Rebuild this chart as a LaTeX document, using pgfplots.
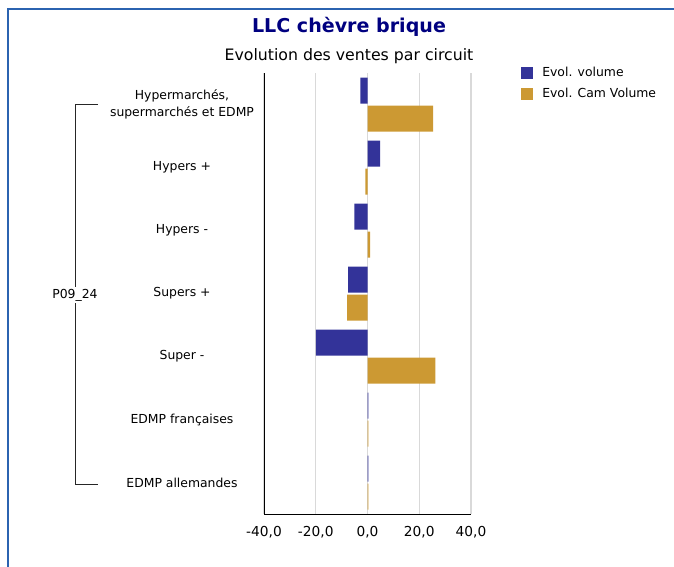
\documentclass[border=0pt]{standalone}
\usepackage{fontspec}
\setmainfont{DejaVu Sans}
\usepackage{pgfplots}
\pgfplotsset{compat=1.18}
\definecolor{cvol}{HTML}{333399}
\definecolor{ccam}{HTML}{CC9933}
\definecolor{ctitle}{HTML}{000080}
\definecolor{cframe}{HTML}{2B63B0}
\definecolor{cgrid}{HTML}{D9D9D9}
\begin{document}
\begin{tikzpicture}
\path[use as bounding box] (0,0) rectangle (505.5pt,-425.25pt);
\draw[cframe, line width=1.5pt] (6.2pt,-425.25pt) -- (6.2pt,-6.75pt) -- (505.5pt,-6.75pt);
\node[font=\fontsize{14.3}{16}\selectfont\bfseries, text=ctitle] at (261.75pt,-20.25pt) {LLC chèvre brique};
\node[font=\fontsize{11.8}{14}\selectfont] at (261.75pt,-42pt) {Evolution des ventes par circuit};
\draw[black!85, line width=0.6pt] (73.5pt,-78pt) -- (56.25pt,-78pt) -- (56.25pt,-363pt) -- (73.5pt,-363pt);
\node[fill=white, inner sep=1.5pt, font=\fontsize{9.3}{11}\selectfont] at (56.25pt,-221.25pt) {P09\_24};
\begin{axis}[
  at={(198pt,-385.5pt)}, anchor=south west,
  scale only axis, width=155.25pt, height=330.75pt,
  xmin=-40, xmax=40, ymin=-0.5, ymax=6.5,
  y dir=reverse,
  axis x line*=bottom, axis y line*=left,
  axis line style={black, line width=0.6pt},
  xmajorgrids, grid style={cgrid, line width=1pt},
  major tick length=0pt,
  xtick={-40,-20,0,20,40},
  xticklabels={{-40,0},{-20,0},{0,0},{20,0},{40,0}},
  xticklabel style={font=\fontsize{10.3}{12}\selectfont, yshift=-5.5pt},
  ytick={0,...,6},
  yticklabels={{Hypermarchés,\\supermarchés et EDMP},{Hypers +},{Hypers -},{Supers +},{Super -},{EDMP françaises},{EDMP allemandes}},
  yticklabel style={font=\fontsize{9.3}{12.75}\selectfont, align=center, anchor=center, xshift=-61.5pt},
  legend style={at={(1.24,1.02)}, anchor=north west, draw=none, fill=none,
    font=\fontsize{9.3}{11}\selectfont, row sep=3pt, inner sep=0pt,
    /tikz/every odd column/.append style={column sep=5pt}},
  legend cell align=left,
  legend image code/.code={\fill[#1] (0pt,-4.5pt) rectangle (9pt,4.5pt);},
]
\addplot[xbar, bar width=19.5pt, bar shift=10.5pt, fill=cvol, draw=none] coordinates {
(-2.8,0) (4.9,1) (-5.1,2) (-7.5,3) (-20.0,4) (0.3,5) (0.3,6)};
\addlegendentry{Evol. volume}
\addplot[xbar, bar width=19.5pt, bar shift=-10.5pt, fill=ccam, draw=none] coordinates {
(25.4,0) (-0.8,1) (1.0,2) (-7.9,3) (26.2,4) (0.3,5) (0.3,6)};
\addlegendentry{Evol. Cam Volume}
\end{axis}
\end{tikzpicture}
\end{document}
